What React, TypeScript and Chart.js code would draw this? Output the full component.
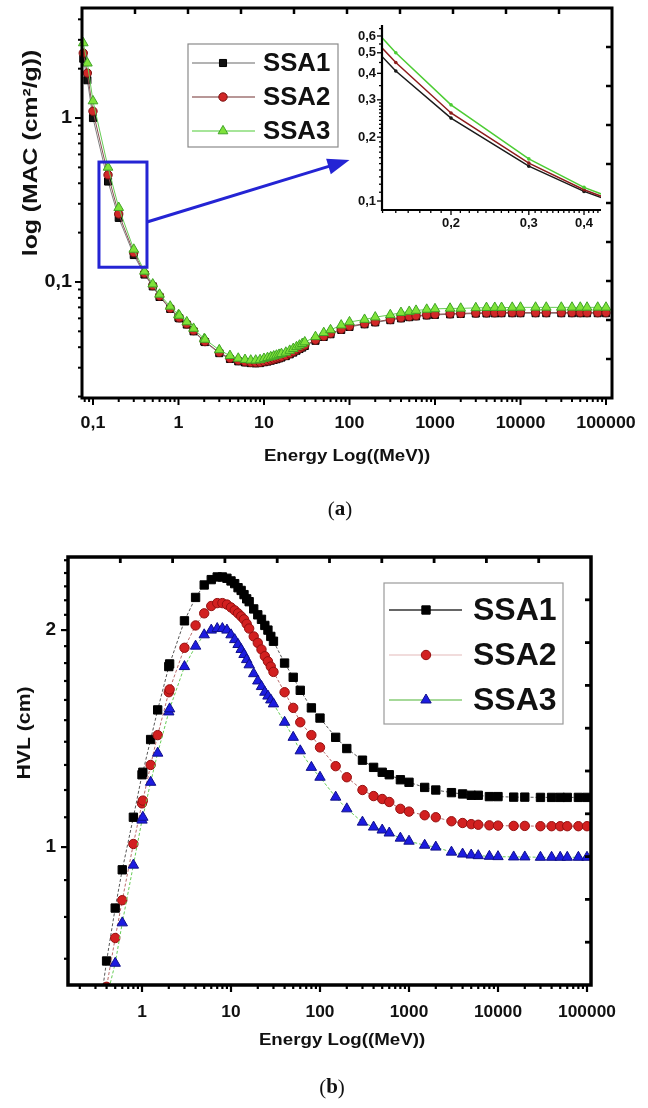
import React, { useEffect, useRef } from 'react';
import { Chart, registerables } from 'chart.js';

Chart.register(...registerables);

// ---------------- DATA ----------------
const seriesNames = ['SSA1', 'SSA2', 'SSA3'];

// (a) Mass attenuation coefficient vs energy
const energyA = [0.077, 0.086, 0.1, 0.15, 0.2, 0.3, 0.4, 0.5, 0.6, 0.8,
  1, 1.022, 1.25, 1.5, 2, 2.044, 3, 4,
  5, 6, 7, 8, 9, 10, 11, 12, 13, 14, 15, 16,
  18, 20, 22, 24, 26, 28, 30,
  40, 50, 60, 80, 100,
  150, 200, 300, 400, 500, 600, 800, 1000, 1500, 2000,
  3000, 4000, 5000, 6000, 8000, 10000,
  15000, 20000, 30000, 40000, 50000, 60000, 80000, 100000];

const macSSA1 = [2.3, 1.7, 1.0, 0.41, 0.246, 0.146, 0.111, 0.094, 0.081, 0.0685,
  0.0605, 0.06, 0.055, 0.05, 0.0433, 0.043, 0.0368, 0.0339,
  0.0328, 0.0323, 0.032, 0.0319, 0.032, 0.0324, 0.0327, 0.0331, 0.0335, 0.0338, 0.0342, 0.0346,
  0.0353, 0.0362, 0.0371, 0.0381, 0.039, 0.0398, 0.0407,
  0.0438, 0.0462, 0.048, 0.051, 0.0532,
  0.0552, 0.0567, 0.0585, 0.06, 0.061, 0.0617, 0.0625, 0.063, 0.0635, 0.0638,
  0.0642, 0.0643, 0.0644, 0.0645, 0.0645, 0.0645,
  0.0645, 0.0645, 0.0645, 0.0645, 0.0645, 0.0645, 0.0645, 0.0645];

const macSSA2 = [2.49, 1.88, 1.1, 0.45, 0.26, 0.151, 0.113, 0.095, 0.082, 0.069,
  0.061, 0.0605, 0.0555, 0.0505, 0.0437, 0.0433, 0.0372, 0.0342,
  0.0332, 0.0326, 0.0323, 0.0322, 0.0323, 0.0327, 0.033, 0.0334, 0.0338, 0.0342, 0.0345, 0.0349,
  0.0356, 0.0365, 0.0375, 0.0385, 0.0393, 0.0402, 0.0411,
  0.0442, 0.0466, 0.0485, 0.0515, 0.0537,
  0.0557, 0.0572, 0.059, 0.0605, 0.0615, 0.0622, 0.063, 0.0635, 0.064, 0.0643,
  0.0647, 0.0648, 0.0649, 0.065, 0.065, 0.065,
  0.065, 0.065, 0.065, 0.065, 0.065, 0.065, 0.065, 0.065];

const macSSA3 = [2.87, 2.16, 1.27, 0.5, 0.284, 0.158, 0.116, 0.097, 0.084, 0.071,
  0.063, 0.0625, 0.057, 0.052, 0.045, 0.0446, 0.0385, 0.0355,
  0.0342, 0.0336, 0.0333, 0.0333, 0.0335, 0.0341, 0.0345, 0.0349, 0.0353, 0.0357, 0.0361, 0.0365,
  0.0372, 0.0382, 0.0392, 0.0402, 0.0411, 0.042, 0.043,
  0.0463, 0.049, 0.051, 0.0545, 0.057,
  0.059, 0.061, 0.063, 0.065, 0.066, 0.067, 0.068, 0.0685, 0.069, 0.069,
  0.0695, 0.0697, 0.0698, 0.0698, 0.0699, 0.07,
  0.07, 0.07, 0.07, 0.07, 0.07, 0.07, 0.07, 0.07];

// (b) Half value layer vs energy
const energyB = [0.3, 0.4, 0.5, 0.6, 0.8,
  1, 1.022, 1.25, 1.5, 2, 2.044, 3, 4,
  5, 6, 7, 8, 9, 10, 11, 12, 13, 14, 15, 16,
  18, 20, 22, 24, 26, 28, 30,
  40, 50, 60, 80, 100,
  150, 200, 300, 400, 500, 600, 800, 1000, 1500, 2000,
  3000, 4000, 5000, 6000, 8000, 10000,
  15000, 20000, 30000, 40000, 50000, 60000, 80000, 100000];

const hvlSSA1 = [0.54, 0.695, 0.823, 0.93, 1.1,
  1.26, 1.27, 1.41, 1.55, 1.78, 1.795, 2.06, 2.22,
  2.31, 2.35, 2.37, 2.37, 2.36, 2.34, 2.32, 2.29, 2.27, 2.24, 2.21, 2.19,
  2.14, 2.1, 2.07, 2.03, 2.0, 1.96, 1.93,
  1.8, 1.72, 1.65, 1.56, 1.51,
  1.42, 1.37, 1.32, 1.29, 1.27, 1.26, 1.24, 1.23, 1.21, 1.2,
  1.19, 1.185, 1.18, 1.18, 1.175, 1.175,
  1.173, 1.173, 1.172, 1.172, 1.172, 1.172, 1.172, 1.172];

const hvlSSA2 = [0.5, 0.64, 0.748, 0.844, 1.01,
  1.15, 1.16, 1.3, 1.43, 1.64, 1.655, 1.89, 2.03,
  2.11, 2.16, 2.18, 2.18, 2.17, 2.15, 2.13, 2.11, 2.09, 2.07, 2.04, 2.01,
  1.96, 1.92, 1.88, 1.84, 1.81, 1.78, 1.75,
  1.64, 1.56, 1.49, 1.43, 1.375,
  1.295, 1.25, 1.2, 1.177, 1.166, 1.155, 1.13, 1.12, 1.107, 1.1,
  1.086, 1.08, 1.076, 1.074, 1.072, 1.071,
  1.07, 1.07, 1.069, 1.069, 1.069, 1.069, 1.069, 1.069];

const hvlSSA3 = [0.48, 0.617, 0.69, 0.785, 0.944,
  1.09, 1.1, 1.23, 1.35, 1.54, 1.555, 1.78, 1.9,
  1.97, 2.0, 2.01, 2.01, 2.0, 1.97, 1.94, 1.91, 1.88, 1.85, 1.82, 1.79,
  1.74, 1.7, 1.67, 1.64, 1.62, 1.6, 1.58,
  1.49, 1.42, 1.36, 1.29, 1.25,
  1.173, 1.13, 1.083, 1.066, 1.056, 1.046, 1.029, 1.019, 1.006, 1.0,
  0.984, 0.978, 0.975, 0.973, 0.971, 0.97,
  0.969, 0.969, 0.968, 0.968, 0.968, 0.968, 0.968, 0.968];

// tick labels
const xTicksA = [0.1, 1, 10, 100, 1000, 10000, 100000];
const yTicksA = [0.1, 1];
const xTicksInset = [0.2, 0.3, 0.4];
const yTicksInset = [0.1, 0.2, 0.3, 0.4, 0.5, 0.6];
const xTicksB = [1, 10, 100, 1000, 10000, 100000];
const yTicksB = [1, 2];

// zoomed region (data units) and arrow to inset
const zoomBox = { xMin: 0.1175, xMax: 0.428, yMin: 0.123, yMax: 0.539 };
const arrowFrom = { x: 0.428, y: 0.232 };
const arrowTo = { x: 100, y: 0.554 };

const xTitle = 'Energy Log((MeV))';
const yTitleA = 'log (MAC (cm²/g))';
const yTitleB = 'HVL (cm)';

// ---------------- HELPERS ----------------
const SANS = '"Liberation Sans", Arial, Helvetica, sans-serif';
const SERIF = '"Liberation Serif", "Times New Roman", serif';

type Tick = { v: number; major: boolean };

const isIn = (v: number, arr: number[]) => arr.some((t) => Math.abs(t - v) / t < 1e-6);

function logTicks(min: number, max: number, majors: number[]): Tick[] {
  const out: Tick[] = [];
  for (let e = Math.floor(Math.log10(min)); e <= Math.ceil(Math.log10(max)); e++) {
    for (let m = 1; m < 10; m++) {
      const v = m * Math.pow(10, e);
      if (v >= min && v <= max) out.push({ v, major: isIn(v, majors) });
    }
  }
  return out;
}

function stepTicks(min: number, max: number, step: number, majors: number[]): Tick[] {
  const out: Tick[] = [];
  const n0 = Math.ceil(min / step - 1e-9);
  const n1 = Math.floor(max / step + 1e-9);
  for (let n = n0; n <= n1; n++) {
    const v = +(n * step).toFixed(6);
    out.push({ v, major: isIn(v, majors) });
  }
  return out;
}

const fmt = (v: number) => String(v).replace('.', ',');

function seg(ctx: CanvasRenderingContext2D, x1: number, y1: number, x2: number, y2: number) {
  ctx.beginPath();
  ctx.moveTo(x1, y1);
  ctx.lineTo(x2, y2);
  ctx.stroke();
}

function txt(ctx: CanvasRenderingContext2D, s: string, x: number, y: number, font: string,
  align: CanvasTextAlign = 'center', sx = 1, rot = 0, color = '#111') {
  ctx.save();
  ctx.translate(x, y);
  if (rot) ctx.rotate(rot);
  ctx.scale(sx, 1);
  ctx.font = font;
  ctx.textAlign = align;
  ctx.textBaseline = 'middle';
  ctx.fillStyle = color;
  ctx.fillText(s, 0, 0);
  ctx.restore();
}

function mark(ctx: CanvasRenderingContext2D, style: string, x: number, y: number, r: number,
  fill: string, stroke: string, bw = 1) {
  ctx.save();
  ctx.beginPath();
  if (style === 'rect') {
    const s = r * Math.SQRT1_2;
    ctx.rect(x - s, y - s, 2 * s, 2 * s);
  } else if (style === 'circle') {
    ctx.arc(x, y, r, 0, Math.PI * 2);
  } else {
    for (let i = 0; i < 3; i++) {
      const a = (i * 2 * Math.PI) / 3;
      const px = x + Math.sin(a) * r;
      const py = y - Math.cos(a) * r;
      if (i) ctx.lineTo(px, py); else ctx.moveTo(px, py);
    }
    ctx.closePath();
  }
  ctx.fillStyle = fill;
  ctx.fill();
  if (bw) {
    ctx.lineWidth = bw;
    ctx.strokeStyle = stroke;
    ctx.stroke();
  }
  ctx.restore();
}

type FrameOpts = {
  xTicks: Tick[]; yTicks: Tick[]; majorLen: number; minorLen: number; tickW: number;
  inLen: number; inW: number; frameW: number;
};

function drawFrame(chart: any, o: FrameOpts) {
  const { ctx, chartArea: a, scales } = chart;
  const xs = scales.x;
  const ys = scales.y;
  ctx.save();
  ctx.strokeStyle = '#000';
  ctx.lineCap = 'butt';
  ctx.lineWidth = o.tickW;
  for (const t of o.xTicks) {
    const px = xs.getPixelForValue(t.v);
    seg(ctx, px, a.bottom, px, a.bottom + (t.major ? o.majorLen : o.minorLen));
  }
  for (const t of o.yTicks) {
    const py = ys.getPixelForValue(t.v);
    seg(ctx, a.left - (t.major ? o.majorLen : o.minorLen), py, a.left, py);
  }
  ctx.lineWidth = o.inW;
  for (let k = 1; k < 10; k++) {
    const px = a.left + (k * (a.right - a.left)) / 10;
    seg(ctx, px, a.top, px, a.top + o.inLen);
    const py = a.top + (k * (a.bottom - a.top)) / 10;
    seg(ctx, a.right - o.inLen, py, a.right, py);
  }
  ctx.lineWidth = o.frameW;
  ctx.strokeRect(a.left, a.top, a.right - a.left, a.bottom - a.top);
  ctx.restore();
}

type LegendSpec = {
  box: { x: number; y: number; w: number; h: number };
  rowY: number[]; lineX: [number, number]; markX: number; textX: number;
  font: string; sx: number; lineColors: string[]; border: string;
};

function drawLegend(chart: any, L: LegendSpec) {
  const { ctx } = chart;
  ctx.save();
  ctx.fillStyle = '#fff';
  ctx.fillRect(L.box.x, L.box.y, L.box.w, L.box.h);
  ctx.strokeStyle = L.border;
  ctx.lineWidth = 1.2;
  ctx.strokeRect(L.box.x, L.box.y, L.box.w, L.box.h);
  chart.data.datasets.forEach((ds: any, i: number) => {
    const y = L.rowY[i];
    ctx.strokeStyle = L.lineColors[i];
    ctx.lineWidth = 1.5;
    seg(ctx, L.lineX[0], y, L.lineX[1], y);
    mark(ctx, ds.pointStyle, L.markX, y, ds.pointRadius, ds.pointBackgroundColor, ds.pointBorderColor, ds.pointBorderWidth);
    txt(ctx, ds.label, L.textX, y + 1, L.font, 'left', L.sx);
  });
  ctx.restore();
}

function panelLabel(ctx: CanvasRenderingContext2D, letter: string, cx: number, cy: number) {
  ctx.save();
  ctx.font = `21px ${SERIF}`;
  const wo = ctx.measureText('(').width;
  const wc = ctx.measureText(')').width;
  ctx.font = `bold 21px ${SERIF}`;
  const wl = ctx.measureText(letter).width;
  let x = cx - (wo + wl + wc) / 2;
  ctx.textBaseline = 'middle';
  ctx.fillStyle = '#111';
  ctx.textAlign = 'left';
  ctx.font = `21px ${SERIF}`;
  ctx.fillText('(', x, cy);
  x += wo;
  ctx.font = `bold 21px ${SERIF}`;
  ctx.fillText(letter, x, cy);
  x += wl;
  ctx.font = `21px ${SERIF}`;
  ctx.fillText(')', x, cy);
  ctx.restore();
}

// ---------------- RANGES ----------------
const rangeA = { xMin: 0.0744, xMax: 117500, yMin: 0.0196, yMax: 4.69 };
const rangeInset = { xMin: 0.1396, xMax: 0.437, yMin: 0.0907, yMax: 0.676 };
const rangeB = { xMin: 0.1474, xMax: 110900, yMin: 0.6437, yMax: 2.526 };

const pts = (xs: number[], ys: number[]) => xs.map((x, i) => ({ x, y: ys[i] }));

function baseOptions(padding: any, r: any, clip: any) {
  return {
    responsive: false,
    maintainAspectRatio: false,
    animation: false as const,
    events: [] as any[],
    layout: { padding },
    plugins: { legend: { display: false }, tooltip: { enabled: false }, title: { display: false } },
    datasets: { line: { clip } },
    scales: {
      x: { type: 'logarithmic' as const, bounds: 'data', min: r.xMin, max: r.xMax, display: false },
      y: { type: 'logarithmic' as const, bounds: 'data', min: r.yMin, max: r.yMax, display: false },
    },
  };
}

// ---------------- CHART (a) ----------------
function configA(): any {
  const styles = [
    { line: '#808080', fill: '#111111', stroke: '#000000', ps: 'rect', r: 5 },
    { line: '#8a5050', fill: '#d12828', stroke: '#7a1212', ps: 'circle', r: 4.2 },
    { line: '#66cc55', fill: '#7fe23a', stroke: '#3fa425', ps: 'triangle', r: 5.6 },
  ];
  const values = [macSSA1, macSSA2, macSSA3];
  const datasets = seriesNames.map((name, i) => ({
    label: name,
    data: pts(energyA, values[i]),
    borderColor: styles[i].line,
    borderWidth: 1,
    pointStyle: styles[i].ps,
    pointRadius: styles[i].r,
    pointBackgroundColor: styles[i].fill,
    pointBorderColor: styles[i].stroke,
    pointBorderWidth: 1,
    tension: 0,
    order: 3 - i,
    clip: false,
  }));
  const xT = logTicks(rangeA.xMin, rangeA.xMax, xTicksA);
  const yT = logTicks(rangeA.yMin, rangeA.yMax, yTicksA);
  const plugin = {
    id: 'decoA',
    afterDraw(chart: any) {
      const { ctx, chartArea: a, scales } = chart;
      const xs = scales.x;
      const ys = scales.y;
      drawFrame(chart, { xTicks: xT, yTicks: yT, majorLen: 7, minorLen: 4, tickW: 2, inLen: 6, inW: 2.5, frameW: 3 });
      const f = `bold 17px ${SANS}`;
      xTicksA.forEach((v) => txt(ctx, fmt(v), xs.getPixelForValue(v), a.bottom + 25, f, 'center', 1.05));
      yTicksA.forEach((v) => txt(ctx, fmt(v), a.left - 10, ys.getPixelForValue(v), `bold 18px ${SANS}`, 'right', 1.1));
      txt(ctx, xTitle, (a.left + a.right) / 2, a.bottom + 58, `bold 17px ${SANS}`, 'center', 1.1);
      txt(ctx, yTitleA, 31, 153, `bold 21px ${SANS}`, 'center', 1.18, -Math.PI / 2);
      drawLegend(chart, {
        box: { x: 188, y: 44, w: 150, h: 103 }, rowY: [63, 97, 131], lineX: [192, 255], markX: 223, textX: 263,
        font: `bold 25px ${SANS}`, sx: 1.03, lineColors: ['#9a9a9a', '#a07474', '#88dd77'], border: '#8a8a8a',
      });
      // zoom box + arrow
      ctx.save();
      ctx.strokeStyle = '#2424d4';
      ctx.fillStyle = '#2424d4';
      ctx.lineWidth = 3;
      const bx0 = xs.getPixelForValue(zoomBox.xMin);
      const bx1 = xs.getPixelForValue(zoomBox.xMax);
      const by0 = ys.getPixelForValue(zoomBox.yMax);
      const by1 = ys.getPixelForValue(zoomBox.yMin);
      ctx.strokeRect(bx0, by0, bx1 - bx0, by1 - by0);
      const p0 = { x: xs.getPixelForValue(arrowFrom.x), y: ys.getPixelForValue(arrowFrom.y) };
      const p1 = { x: xs.getPixelForValue(arrowTo.x), y: ys.getPixelForValue(arrowTo.y) };
      const ang = Math.atan2(p1.y - p0.y, p1.x - p0.x);
      const hl = 22;
      const hw = 8;
      const bxh = p1.x - hl * Math.cos(ang);
      const byh = p1.y - hl * Math.sin(ang);
      seg(ctx, p0.x, p0.y, bxh + 2 * Math.cos(ang), byh + 2 * Math.sin(ang));
      ctx.beginPath();
      ctx.moveTo(p1.x, p1.y);
      ctx.lineTo(bxh - hw * Math.sin(ang), byh + hw * Math.cos(ang));
      ctx.lineTo(bxh + hw * Math.sin(ang), byh - hw * Math.cos(ang));
      ctx.closePath();
      ctx.fill();
      ctx.restore();
      panelLabel(ctx, 'a', 340, 510);
    },
  };
  return {
    type: 'line',
    data: { datasets },
    options: baseOptions({ left: 82, top: 8, right: 36, bottom: 132 }, rangeA, false),
    plugins: [plugin],
  };
}

// ---------------- INSET ----------------
function configInset(): any {
  const colors = ['#1a1a1a', '#8e1c1c', '#4ccc33'];
  const values = [macSSA1, macSSA2, macSSA3];
  const datasets = seriesNames.map((name, i) => ({
    label: name,
    data: pts(energyA, values[i]),
    borderColor: colors[i],
    borderWidth: 1.5,
    pointStyle: 'circle',
    pointRadius: 1.8,
    pointBackgroundColor: colors[i],
    pointBorderColor: colors[i],
    pointBorderWidth: 0,
    tension: 0,
    order: 3 - i,
    clip: 0,
  }));
  const xT = stepTicks(rangeInset.xMin, rangeInset.xMax, 0.01, xTicksInset);
  const yT = [
    ...stepTicks(0.1, 0.3, 0.01, yTicksInset),
    ...stepTicks(0.35, rangeInset.yMax, 0.05, yTicksInset),
  ];
  const plugin = {
    id: 'decoInset',
    afterDraw(chart: any) {
      const { ctx, chartArea: a, scales } = chart;
      const xs = scales.x;
      const ys = scales.y;
      ctx.save();
      ctx.strokeStyle = '#000';
      ctx.lineWidth = 1.3;
      for (const t of xT) {
        const px = xs.getPixelForValue(t.v);
        seg(ctx, px, a.bottom, px, a.bottom + (t.major ? 5 : 3));
      }
      for (const t of yT) {
        const py = ys.getPixelForValue(t.v);
        seg(ctx, a.left - (t.major ? 5 : 3), py, a.left, py);
      }
      ctx.lineWidth = 2.2;
      seg(ctx, a.left, a.top, a.left, a.bottom + 1);
      seg(ctx, a.left - 1, a.bottom, a.right, a.bottom);
      ctx.restore();
      const f = `bold 13px ${SANS}`;
      xTicksInset.forEach((v) => txt(ctx, fmt(v), xs.getPixelForValue(v), a.bottom + 13, f, 'center'));
      yTicksInset.forEach((v) => txt(ctx, fmt(v), a.left - 6, ys.getPixelForValue(v), f, 'right'));
    },
  };
  return {
    type: 'line',
    data: { datasets },
    options: baseOptions({ left: 52, top: 10, right: 19, bottom: 30 }, rangeInset, 0),
    plugins: [plugin],
  };
}

// ---------------- CHART (b) ----------------
function configB(): any {
  const styles = [
    { line: '#555555', fill: '#000000', stroke: '#000000', ps: 'rect', r: 5.9 },
    { line: '#b86a6a', fill: '#d22020', stroke: '#951010', ps: 'circle', r: 4.7 },
    { line: '#66cc55', fill: '#1c1ce0', stroke: '#10108a', ps: 'triangle', r: 6 },
  ];
  const values = [hvlSSA1, hvlSSA2, hvlSSA3];
  const datasets = seriesNames.map((name, i) => ({
    label: name,
    data: pts(energyB, values[i]),
    borderColor: styles[i].line,
    borderWidth: 1,
    borderDash: [3, 2],
    pointStyle: styles[i].ps,
    pointRadius: styles[i].r,
    pointBackgroundColor: styles[i].fill,
    pointBorderColor: styles[i].stroke,
    pointBorderWidth: 1,
    tension: 0,
    order: 3 - i,
    clip: 0,
  }));
  const xT = logTicks(rangeB.xMin, rangeB.xMax, xTicksB);
  const yT = stepTicks(0.7, rangeB.yMax, 0.1, yTicksB);
  const plugin = {
    id: 'decoB',
    afterDraw(chart: any) {
      const { ctx, chartArea: a, scales } = chart;
      const xs = scales.x;
      const ys = scales.y;
      drawFrame(chart, { xTicks: xT, yTicks: yT, majorLen: 7, minorLen: 4, tickW: 2.2, inLen: 6, inW: 2.8, frameW: 3.5 });
      xTicksB.forEach((v) => txt(ctx, fmt(v), xs.getPixelForValue(v), a.bottom + 27, `bold 17px ${SANS}`, 'center', 1.02));
      yTicksB.forEach((v) => txt(ctx, fmt(v), a.left - 12, ys.getPixelForValue(v), `bold 19px ${SANS}`, 'right'));
      txt(ctx, xTitle, 342, a.bottom + 55, `bold 17px ${SANS}`, 'center', 1.1);
      txt(ctx, yTitleB, 25, 203, `bold 18px ${SANS}`, 'center', 1.18, -Math.PI / 2);
      drawLegend(chart, {
        box: { x: 384, y: 53, w: 179, h: 141 }, rowY: [80, 125, 170], lineX: [389, 462], markX: 426, textX: 473,
        font: `bold 32px ${SANS}`, sx: 1.0, lineColors: ['#333333', '#ecd0d0', '#88cc77'], border: '#9a9a9a',
      });
      panelLabel(ctx, 'b', 332, 558);
    },
  };
  return {
    type: 'line',
    data: { datasets },
    options: baseOptions({ left: 68, top: 27, right: 57, bottom: 123 }, rangeB, 0),
    plugins: [plugin],
  };
}

// ---------------- COMPONENT ----------------
export default function App() {
  const aRef = useRef<HTMLCanvasElement>(null);
  const iRef = useRef<HTMLCanvasElement>(null);
  const bRef = useRef<HTMLCanvasElement>(null);

  useEffect(() => {
    const ca = new Chart(aRef.current as HTMLCanvasElement, configA());
    const ci = new Chart(iRef.current as HTMLCanvasElement, configInset());
    const cb = new Chart(bRef.current as HTMLCanvasElement, configB());
    return () => {
      ca.destroy();
      ci.destroy();
      cb.destroy();
    };
  }, []);

  return (
    <div style={{ position: 'absolute', left: 0, top: 0, width: 648, height: 1108, background: '#fff', overflow: 'hidden' }}>
      <canvas ref={aRef} width={648} height={530} style={{ position: 'absolute', left: 0, top: 0, width: 648, height: 530 }} />
      <canvas ref={iRef} width={290} height={225} style={{ position: 'absolute', left: 330, top: 15, width: 290, height: 225 }} />
      <canvas ref={bRef} width={648} height={578} style={{ position: 'absolute', left: 0, top: 530, width: 648, height: 578 }} />
    </div>
  );
}
